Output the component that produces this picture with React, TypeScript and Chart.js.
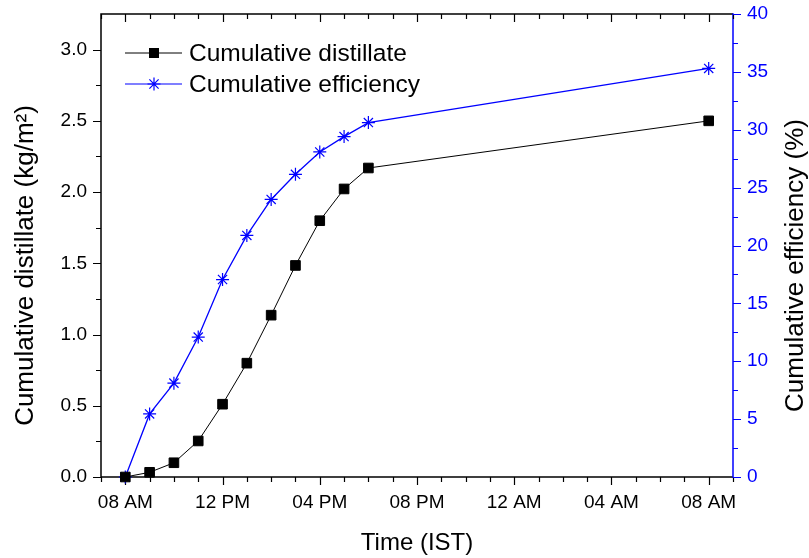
import React, { useEffect, useRef } from "react";
import { Chart, registerables } from "chart.js";

Chart.register(...registerables);

// ---- data ----
const hours = [8, 9, 10, 11, 12, 13, 14, 15, 16, 17, 18, 32];
const distillate = [0, 0.033, 0.1, 0.253, 0.511, 0.799, 1.136, 1.485, 1.799, 2.022, 2.169, 2.5];
const efficiency = [0, 5.45, 8.11, 12.09, 17.06, 20.87, 23.98, 26.15, 28.08, 29.41, 30.62, 35.3];
const xTickHours = [8, 12, 16, 20, 24, 28, 32];
const xTickLabels = ["08 AM", "12 PM", "04 PM", "08 PM", "12 AM", "04 AM", "08 AM"];
const leftTicks = [0, 0.5, 1.0, 1.5, 2.0, 2.5, 3.0];
const seriesLabels = ["Cumulative distillate", "Cumulative efficiency"];
const xTitle = "Time (IST)";
const yTitle = "Cumulative distillate (kg/m²)";
const y1Title = "Cumulative efficiency (%)";

const FONT = "'Liberation Sans', Arial, Helvetica, sans-serif";
const BLUE = "#0000ff";
const BLACK = "#000000";

function drawSquare(ctx: CanvasRenderingContext2D, x: number, y: number, s: number) {
  ctx.fillStyle = BLACK;
  ctx.fillRect(x - s / 2, y - s / 2, s, s);
}
function drawStar(ctx: CanvasRenderingContext2D, x: number, y: number, r: number) {
  ctx.beginPath();
  ctx.moveTo(x - r, y); ctx.lineTo(x + r, y);
  ctx.moveTo(x, y - r); ctx.lineTo(x, y + r);
  const d = r * Math.SQRT1_2;
  ctx.moveTo(x - d, y - d); ctx.lineTo(x + d, y + d);
  ctx.moveTo(x - d, y + d); ctx.lineTo(x + d, y - d);
  ctx.stroke();
}

const framePlugin = {
  id: "frame",
  beforeDatasetsDraw(chart: any) {
    const { ctx, chartArea: ca, scales } = chart;
    const xs = scales.x, ys = scales.y, y1 = scales.y1;
    ctx.save();
    ctx.lineCap = "butt";
    // frame
    ctx.lineWidth = 1.5;
    ctx.strokeStyle = BLACK;
    ctx.beginPath();
    ctx.moveTo(ca.left, ca.bottom); ctx.lineTo(ca.left, ca.top);
    ctx.moveTo(ca.left - 0.75, ca.top); ctx.lineTo(ca.right, ca.top);
    ctx.moveTo(ca.left - 0.75, ca.bottom); ctx.lineTo(ca.right, ca.bottom);
    ctx.stroke();
    ctx.strokeStyle = BLUE;
    ctx.beginPath();
    ctx.moveTo(ca.right, ca.top - 0.75); ctx.lineTo(ca.right, ca.bottom + 0.75);
    ctx.stroke();
    // x ticks (bottom outward, top inward)
    ctx.strokeStyle = BLACK;
    ctx.lineWidth = 1.2;
    ctx.beginPath();
    for (let h = xs.min; h <= xs.max; h += 1) {
      const px = Math.round(xs.getPixelForValue(h)) + 0.5;
      const major = (h - 8) % 4 === 0;
      const len = major ? 8 : 5;
      ctx.moveTo(px, ca.bottom); ctx.lineTo(px, ca.bottom + len);
      ctx.moveTo(px, ca.top); ctx.lineTo(px, ca.top + len);
    }
    ctx.stroke();
    // left ticks
    ctx.beginPath();
    for (let v = 0; v <= 3.0001; v += 0.25) {
      const py = Math.round(ys.getPixelForValue(v)) + 0.5;
      const major = Math.abs(v * 2 - Math.round(v * 2)) < 1e-6;
      const len = major ? 8 : 5;
      ctx.moveTo(ca.left, py); ctx.lineTo(ca.left - len, py);
    }
    ctx.stroke();
    // right ticks
    ctx.strokeStyle = BLUE;
    ctx.beginPath();
    for (let v = 0; v <= 40.0001; v += 2.5) {
      const py = Math.round(y1.getPixelForValue(v)) + 0.5;
      const major = Math.abs(v / 5 - Math.round(v / 5)) < 1e-6;
      const len = major ? 8 : 5;
      ctx.moveTo(ca.right, py); ctx.lineTo(ca.right + len, py);
    }
    ctx.stroke();
    ctx.restore();
  },
  afterDraw(chart: any) {
    const { ctx, chartArea: ca } = chart;
    ctx.save();
    // titles
    ctx.fillStyle = BLACK;
    ctx.textAlign = "center";
    ctx.textBaseline = "alphabetic";
    ctx.font = `24px ${FONT}`;
    ctx.fillText(xTitle, (ca.left + ca.right) / 2, ca.bottom + 73);
    const midY = (ca.top + ca.bottom) / 2 + 20;
    ctx.font = `26px ${FONT}`;
    ctx.save();
    ctx.translate(33, midY);
    ctx.rotate(-Math.PI / 2);
    ctx.fillText(yTitle, 0, 0);
    ctx.restore();
    ctx.save();
    ctx.translate(ca.right + 70, midY);
    ctx.rotate(-Math.PI / 2);
    ctx.fillText(y1Title, 0, 0);
    ctx.restore();
    // legend
    const lx0 = ca.left + 24, lx1 = ca.left + 81, mx = ca.left + 53, tx = ca.left + 88;
    const rows = [ca.top + 39, ca.top + 70];
    ctx.font = `24.5px ${FONT}`;
    ctx.textAlign = "left";
    ctx.textBaseline = "middle";
    // row 1
    ctx.strokeStyle = BLACK; ctx.lineWidth = 1;
    ctx.beginPath(); ctx.moveTo(lx0, rows[0]); ctx.lineTo(lx1, rows[0]); ctx.stroke();
    drawSquare(ctx, mx, rows[0], 10);
    ctx.fillStyle = BLACK;
    ctx.fillText(seriesLabels[0], tx, rows[0] + 1);
    // row 2
    ctx.strokeStyle = BLUE; ctx.lineWidth = 1.2;
    ctx.beginPath(); ctx.moveTo(lx0, rows[1]); ctx.lineTo(lx1, rows[1]); ctx.stroke();
    drawStar(ctx, mx, rows[1], 6.5);
    ctx.fillStyle = BLACK;
    ctx.fillText(seriesLabels[1], tx, rows[1] + 1);
    ctx.restore();
  },
};

export default function App() {
  const ref = useRef<HTMLCanvasElement | null>(null);
  useEffect(() => {
    document.body.style.margin = "0";
    const canvas = ref.current;
    if (!canvas) return;
    Chart.defaults.font.family = FONT;
    const chart = new Chart(canvas, {
      type: "line",
      data: {
        datasets: [
          {
            label: seriesLabels[0],
            data: hours.map((h, i) => ({ x: h, y: distillate[i] })),
            yAxisID: "y",
            borderColor: BLACK,
            borderWidth: 1,
            backgroundColor: BLACK,
            pointStyle: "rect",
            pointRadius: 6.8,
            pointBorderWidth: 1,
            pointBorderColor: BLACK,
            pointBackgroundColor: BLACK,
            tension: 0,
            clip: false as any,
          },
          {
            label: seriesLabels[1],
            data: hours.map((h, i) => ({ x: h, y: efficiency[i] })),
            yAxisID: "y1",
            borderColor: BLUE,
            borderWidth: 1.3,
            backgroundColor: BLUE,
            pointStyle: "star",
            pointRadius: 6.5,
            pointBorderWidth: 1.2,
            pointBorderColor: BLUE,
            tension: 0,
            clip: false as any,
          },
        ],
      },
      options: {
        animation: false,
        responsive: false,
        maintainAspectRatio: false,
        layout: { padding: { top: 14, left: 0, right: 0, bottom: 0 } },
        plugins: { legend: { display: false }, tooltip: { enabled: false }, title: { display: false } },
        scales: {
          x: {
            type: "linear",
            min: 7,
            max: 33,
            grid: { display: false, drawTicks: false },
            border: { display: false },
            afterBuildTicks: (s: any) => {
              s.ticks = xTickHours.map((v) => ({ value: v }));
            },
            afterFit: (s: any) => {
              s.height = 81;
              s.paddingLeft = 0;
              s.paddingRight = 0;
            },
            ticks: {
              autoSkip: false,
              maxRotation: 0,
              padding: 14,
              color: BLACK,
              font: { size: 19, family: FONT },
              callback: (v: any) => {
                const i = xTickHours.indexOf(Number(v));
                return i >= 0 ? xTickLabels[i] : "";
              },
            },
          },
          y: {
            type: "linear",
            position: "left",
            min: 0,
            max: 3.25,
            grid: { display: false, drawTicks: false },
            border: { display: false },
            afterBuildTicks: (s: any) => {
              s.ticks = leftTicks.map((v) => ({ value: v }));
            },
            afterFit: (s: any) => {
              s.width = 101;
              s.paddingTop = 0;
              s.paddingBottom = 0;
            },
            ticks: {
              padding: 14,
              color: BLACK,
              font: { size: 19, family: FONT },
              callback: (v: any) => Number(v).toFixed(1),
            },
          },
          y1: {
            type: "linear",
            position: "right",
            min: 0,
            max: 40,
            grid: { display: false, drawTicks: false },
            border: { display: false },
            afterFit: (s: any) => {
              s.width = 76;
              s.paddingTop = 0;
              s.paddingBottom = 0;
            },
            ticks: {
              stepSize: 5,
              padding: 14,
              color: BLUE,
              font: { size: 19, family: FONT },
            },
          },
        },
      },
      plugins: [framePlugin],
    });
    return () => chart.destroy();
  }, []);
  return (
    <div style={{ position: "fixed", left: 0, top: 0, width: 809, height: 558, background: "#fff" }}>
      <canvas ref={ref} width={809} height={558} style={{ display: "block", width: 809, height: 558 }} />
    </div>
  );
}
